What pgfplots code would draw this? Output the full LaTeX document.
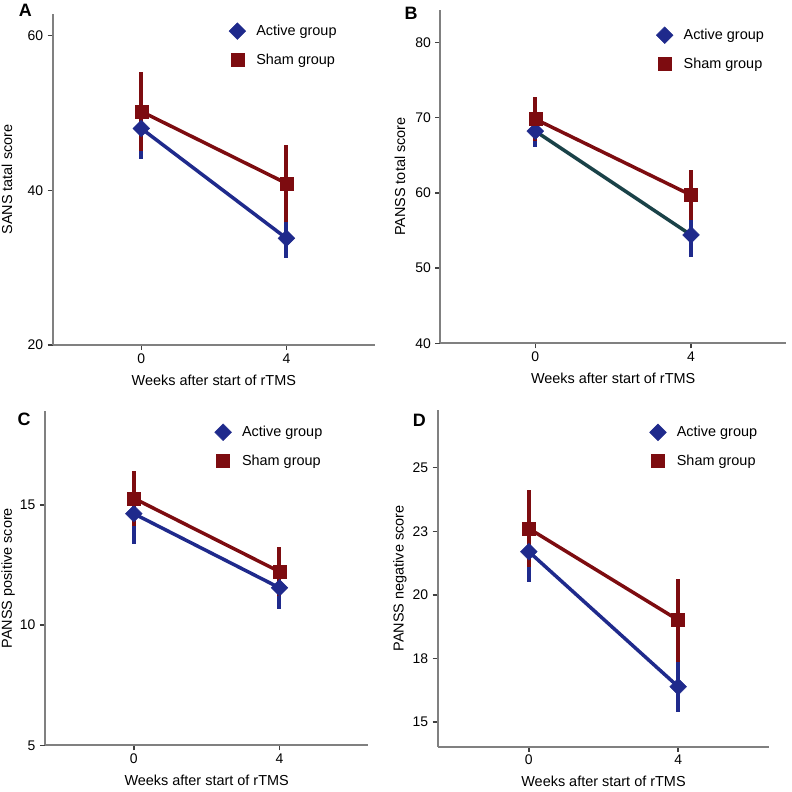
\documentclass[border=0pt]{standalone}
\usepackage{pgfplots}
\pgfplotsset{compat=1.18}
\usepackage{fontspec}
\setmainfont{Liberation Sans}

\definecolor{act}{HTML}{1F2A8C}
\definecolor{sham}{HTML}{7D0C10}
\definecolor{actdark}{HTML}{1A4248}

\pgfplotsset{
  panel/.style={
    scale only axis,
    axis lines*=left,
    axis line style={-, draw=black!50, line width=2bp},
    tick align=outside,
    major tick length=5bp,
    tick style={draw=black!75, line width=1.5bp},
    xmin=-2.44, xmax=6.44,
    xtick={0,4},
    /pgf/number format/assume math mode=true,
    tick label style={font=\fontsize{14}{16}\selectfont},
    yticklabel style={xshift=-1bp},
    label style={font=\fontsize{14.5}{17}\selectfont},
    xlabel={Weeks after start of rTMS},
    xlabel style={at={(axis description cs:0.5,0)}, anchor=center, yshift=-35bp},
    clip=false,
    legend cell align=left,
    legend style={draw=none, fill=none, inner sep=0pt, row sep=14bp,
      nodes={inner sep=0pt}, font=\fontsize{14.5}{17}\selectfont, anchor=north west},
    legend image code/.code={\path (0bp,0bp) (27bp,0bp); \draw[##1] plot coordinates {(8.3bp,0bp)};},
  },
  actline/.style={act, line width=3.5bp, no marks,
    error bars/y dir=both, error bars/y explicit, error bars/error mark=none,
    error bars/error bar style={line width=4bp, draw=act}},
  shamline/.style={sham, line width=3.5bp, no marks,
    error bars/y dir=both, error bars/y explicit, error bars/error mark=none,
    error bars/error bar style={line width=4bp, draw=sham}},
  actmark/.style={only marks, mark=square*, mark size=5.9bp,
    mark options={rotate=45, fill=act, draw=act, line width=0.5bp}},
  shammark/.style={only marks, mark=square*, mark size=6.5bp,
    mark options={fill=sham, draw=sham, line width=0.5bp}},
}

\begin{document}
\begin{tikzpicture}
\path[use as bounding box] (0bp,0bp) rectangle (792bp,792bp);

% A
\begin{axis}[panel, at={(52.7bp,447bp)}, anchor=south west,
  width=322.3bp, height=331bp,
  ymin=20, ymax=62.8, ytick={20,40,60},
  ylabel={SANS tatal score},
  ylabel style={at={(axis description cs:-0.142,0.5)}, anchor=center},
  legend style={at={(0.546,0.974)}}]
\addplot[actline, forget plot] coordinates {(0,48.0) +- (0,3.9) (4,33.8) +- (0,2.6)};
\addplot[actmark] coordinates {(0,48.0) (4,33.8)};
\addplot[shamline, forget plot] coordinates {(0,50.2) +- (0,5.1) (4,40.9) +- (0,5.0)};
\addplot[shammark] coordinates {(0,50.2) (4,40.9)};
\legend{Active group, Sham group}
\end{axis}

% B
\begin{axis}[panel, at={(440.3bp,448.7bp)}, anchor=south west,
  width=345.7bp, height=333.3bp,
  ymin=40, ymax=84.3, ytick={40,50,60,70,80},
  ylabel={PANSS total score},
  ylabel style={at={(axis description cs:-0.117,0.5)}, anchor=center},
  legend style={at={(0.624,0.950)}}]
\addplot[actline, actdark, forget plot] coordinates {(0,68.2) +- (0,2.1) (4,54.4) +- (0,2.9)};
\addplot[actmark] coordinates {(0,68.2) (4,54.4)};
\addplot[shamline, forget plot] coordinates {(0,69.8) +- (0,2.9) (4,59.7) +- (0,3.3)};
\addplot[shammark] coordinates {(0,69.8) (4,59.7)};
\legend{Active group, Sham group}
\end{axis}

% C
\begin{axis}[panel, at={(45bp,46.7bp)}, anchor=south west,
  width=323.3bp, height=334.3bp,
  ymin=5, ymax=18.9, ytick={5,10,15},
  ylabel={PANSS positive score},
  ylabel style={at={(axis description cs:-0.114,0.5)}, anchor=center},
  legend style={at={(0.524,0.962)}}]
\addplot[actline, forget plot] coordinates {(0,14.63) +- (0,1.27) (4,11.55) +- (0,0.90)};
\addplot[actmark] coordinates {(0,14.63) (4,11.55)};
\addplot[shamline, forget plot] coordinates {(0,15.27) +- (0,1.14) (4,12.22) +- (0,1.03)};
\addplot[shammark] coordinates {(0,15.27) (4,12.22)};
\legend{Active group, Sham group}
\end{axis}

% D
\begin{axis}[panel, at={(437.7bp,45.3bp)}, anchor=south west,
  width=331.6bp, height=336.7bp,
  ymin=14.03, ymax=27.27, ytick={15,17.5,20,22.5,25},
  yticklabels={15,18,20,23,25},
  ylabel={PANSS negative score},
  ylabel style={at={(axis description cs:-0.114,0.5)}, anchor=center},
  legend style={at={(0.638,0.959)}}]
\addplot[actline, forget plot] coordinates {(0,21.70) +- (0,1.18) (4,16.39) +- (0,0.98)};
\addplot[actmark] coordinates {(0,21.70) (4,16.39)};
\addplot[shamline, forget plot] coordinates {(0,22.61) +- (0,1.50) (4,19.01) +- (0,1.63)};
\addplot[shammark] coordinates {(0,22.61) (4,19.01)};
\legend{Active group, Sham group}
\end{axis}

% panel letters
\node[font=\fontsize{18}{20}\selectfont\bfseries] at (25.3bp,781.5bp) {A};
\node[font=\fontsize{18}{20}\selectfont\bfseries] at (411bp,779bp) {B};
\node[font=\fontsize{18}{20}\selectfont\bfseries] at (24bp,372.5bp) {C};
\node[font=\fontsize{18}{20}\selectfont\bfseries] at (419.3bp,371.3bp) {D};
\end{tikzpicture}
\end{document}
